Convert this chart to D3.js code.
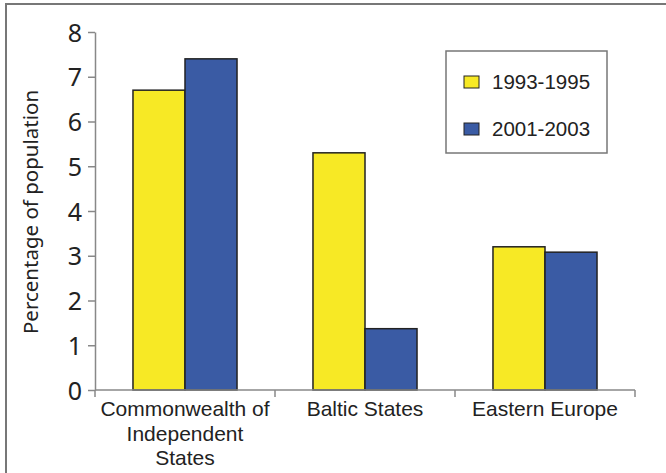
<!DOCTYPE html>
<html>
<head>
<meta charset="utf-8">
<script src="https://cdn.jsdelivr.net/npm/d3@7"></script>
<style>
  body { margin: 0; background: #fff; }
</style>
</head>
<body>
<div id="chart"></div>
<script>
const categories = [["Commonwealth of", "Independent", "States"], ["Baltic States"], ["Eastern Europe"]];
const series = ["1993-1995", "2001-2003"];
const values1993 = [6.7, 5.3, 3.2];
const values2001 = [7.4, 1.37, 3.08];
const yTicks = [0, 1, 2, 3, 4, 5, 6, 7, 8];
const colors = ["#f7e925", "#3a5ba4"];

const W = 666, H = 473;
const margin = { top: 32, left: 95, right: 31, bottom: 83 };

const svg = d3.select("#chart").append("svg")
    .attr("width", W)
    .attr("height", H);

// outer frame (only top and left visible)
svg.append("rect")
    .attr("x", 6).attr("y", 4)
    .attr("width", 800).attr("height", 600)
    .attr("fill", "none")
    .attr("stroke", "#777")
    .attr("stroke-width", 2);

const catKeys = categories.map(c => c.join(" "));

const x0 = d3.scaleBand()
    .domain(catKeys)
    .range([margin.left, W - margin.right]);

const x1 = d3.scaleBand()
    .domain(series)
    .range([0, x0.bandwidth()])
    .paddingOuter(0.73);

const y = d3.scaleLinear()
    .domain([0, 8])
    .range([H - margin.bottom, margin.top]);

const rows = catKeys.map((k, i) => ({ key: k, vals: [values1993[i], values2001[i]] }));

const g = svg.append("g");
g.selectAll("g.grp")
    .data(rows)
    .join("g")
    .attr("class", "grp")
    .attr("transform", d => "translate(" + x0(d.key) + ",0)")
    .selectAll("rect")
    .data(d => d.vals.map((v, j) => ({ s: series[j], v: v, j: j })))
    .join("rect")
    .attr("x", d => x1(d.s))
    .attr("y", d => y(d.v))
    .attr("width", x1.bandwidth())
    .attr("height", d => y(0) - y(d.v))
    .attr("fill", d => colors[d.j])
    .attr("stroke", "#222")
    .attr("stroke-width", 1.5);

// y axis
const yAxis = svg.append("g")
    .attr("transform", "translate(" + margin.left + ",0)")
    .call(d3.axisLeft(y).tickValues(yTicks).tickSize(7).tickPadding(6).tickSizeOuter(0));
yAxis.select(".domain").attr("stroke", "#888").attr("stroke-width", 1.5);
yAxis.selectAll(".tick line").attr("stroke", "#888").attr("stroke-width", 1.5);
yAxis.selectAll(".tick text")
    .attr("fill", "#222")
    .style("font-family", "'Noto Sans', sans-serif")
    .style("font-size", "25px")
    .attr("dy", "0.36em");

// x axis
const xAxis = svg.append("g")
    .attr("transform", "translate(0," + y(0) + ")");
xAxis.append("line")
    .attr("x1", margin.left).attr("x2", W - margin.right)
    .attr("stroke", "#888").attr("stroke-width", 1.5);
const bounds = x0.domain().map(d => x0(d)).concat([W - margin.right]);
xAxis.selectAll("line.tk")
    .data(bounds)
    .join("line")
    .attr("class", "tk")
    .attr("x1", d => d).attr("x2", d => d)
    .attr("y1", 0).attr("y2", 7)
    .attr("stroke", "#888").attr("stroke-width", 1.5);

xAxis.selectAll("text.cat")
    .data(categories)
    .join("text")
    .attr("class", "cat")
    .attr("x", (d, i) => x0(catKeys[i]) + x0.bandwidth() / 2)
    .attr("y", 26)
    .attr("text-anchor", "middle")
    .attr("fill", "#222")
    .style("font-family", "'Liberation Sans', Arial, sans-serif")
    .style("font-size", "21px")
    .selectAll("tspan")
    .data(d => d)
    .join("tspan")
    .attr("x", function () { return this.parentNode.getAttribute("x"); })
    .attr("dy", (d, i) => i === 0 ? 0 : 24.5)
    .text(d => d);

// y label
svg.append("text")
    .attr("transform", "translate(38," + (y(4) + 1) + ") rotate(-90)")
    .attr("text-anchor", "middle")
    .attr("fill", "#222")
    .style("font-family", "'Noto Sans', sans-serif")
    .style("font-size", "20.5px")
    .text("Percentage of population");

// legend
const legend = svg.append("g");
legend.append("rect")
    .attr("x", 446).attr("y", 51)
    .attr("width", 161).attr("height", 102)
    .attr("fill", "#fff")
    .attr("stroke", "#777")
    .attr("stroke-width", 1.5);
const li = legend.selectAll("g.li")
    .data(series)
    .join("g")
    .attr("class", "li")
    .attr("transform", (d, i) => "translate(0," + (i * 47) + ")");
li.append("rect")
    .attr("x", 464).attr("y", 76)
    .attr("width", 15).attr("height", 12)
    .attr("fill", (d, i) => colors[i])
    .attr("stroke", "#222")
    .attr("stroke-width", 1);
li.append("text")
    .attr("x", 492).attr("y", 89)
    .attr("fill", "#222")
    .style("font-family", "'Liberation Sans', Arial, sans-serif")
    .style("font-size", "20.5px")
    .text(d => d);
</script>
</body>
</html>
